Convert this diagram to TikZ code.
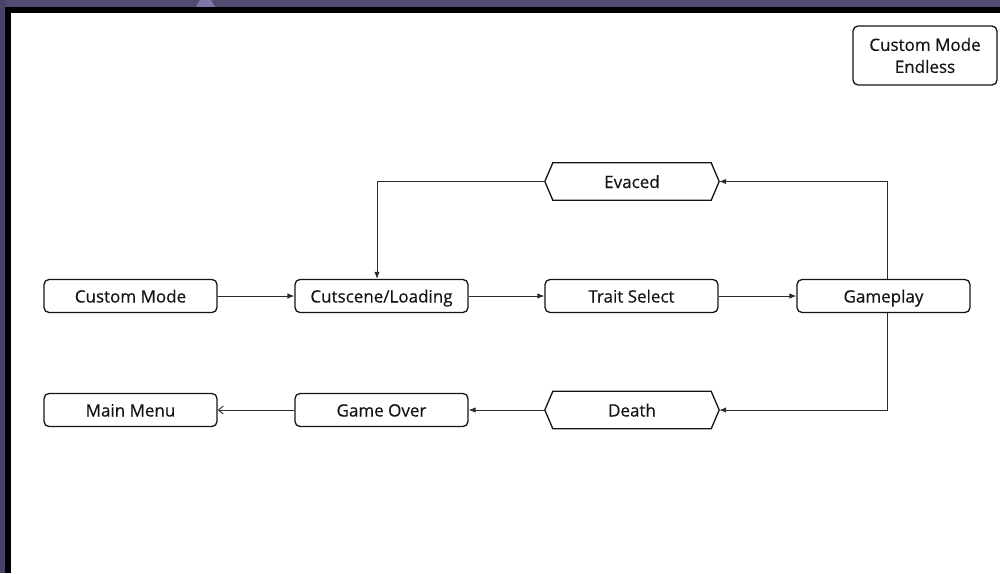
\documentclass[tikz,border=0pt]{standalone}
\usepackage{fontspec}
\setmainfont[FakeBold=0.35]{Open Sans}
\usetikzlibrary{arrows.meta}
\definecolor{barpurple}{RGB}{82,74,112}
\definecolor{barlight}{RGB}{128,118,165}
\definecolor{inkc}{RGB}{20,20,20}
\begin{document}
\begin{tikzpicture}[x=1pt,y=-1pt,
  lbl/.style={font=\fontsize{17}{22}\selectfont, text=inkc},
  oneline/.style={text height=14.5pt, text depth=1.5pt},
  box/.style={lbl, draw=inkc, line width=1.3pt, rounded corners=5pt, minimum width=173pt, minimum height=33pt, inner sep=0pt},
  sbox/.style={box, oneline},
  hexbox/.style={lbl, oneline, minimum width=174pt, minimum height=37pt, inner sep=0pt},
  hexline/.style={draw=inkc, line width=1.3pt, line join=miter},
  conn/.style={draw=inkc!90, line width=0.9pt, -{Latex[length=7pt,width=5.5pt]}},
  connopen/.style={draw=inkc!90, line width=0.9pt, -{Straight Barb[length=5pt,width=8pt]}}
]
\useasboundingbox (0,0) rectangle (1000,573);
\fill[white] (0,0) rectangle (1000,573);
% slide frame remnants
\fill[barpurple] (0,0) rectangle (1000,7);
\fill[barpurple!90!black] (0,0) rectangle (5,573);
\fill[barlight] (196,7) -- (200,0) -- (211,0) -- (215,7) -- cycle;
\fill[black] (5,7) rectangle (1000,13);
\fill[black] (5,7) rectangle (11,573);

% nodes
\node[sbox] (cm) at (130.5,296) {Custom Mode};
\node[sbox] (cl) at (381.5,296) {Cutscene/Loading};
\node[sbox] (ts) at (631.5,296) {Trait Select};
\node[sbox] (gp) at (883.5,296) {Gameplay};
\node[sbox] (mm) at (130.5,410) {Main Menu};
\node[sbox] (go) at (381.5,410) {Game Over};
\node[hexbox] (ev) at (632,181.5) {Evaced};
\node[hexbox] (de) at (632,410) {Death};
\node[box, minimum width=144pt, minimum height=59pt, align=center] (cme) at (925,55.5) {Custom Mode\\Endless};

\draw[hexline] ([xshift=8pt]ev.north west) -- ([xshift=-8pt]ev.north east) -- (ev.east) -- ([xshift=-8pt]ev.south east) -- ([xshift=8pt]ev.south west) -- (ev.west) -- cycle;
\draw[hexline] ([xshift=8pt]de.north west) -- ([xshift=-8pt]de.north east) -- (de.east) -- ([xshift=-8pt]de.south east) -- ([xshift=8pt]de.south west) -- (de.west) -- cycle;

% connectors
\draw[conn] (cm) -- (cl);
\draw[conn] (cl) -- (ts);
\draw[conn] (ts) -- (gp);
\draw[conn] ([xshift=3.5pt]gp.north) |- (ev.east);
\draw[conn] (ev.west) -| ([xshift=-4.5pt]cl.north);
\draw[conn] ([xshift=3.5pt]gp.south) |- (de.east);
\draw[conn] (de.west) -- (go.east);
\draw[connopen] (go.west) -- (mm.east);
\end{tikzpicture}
\end{document}
